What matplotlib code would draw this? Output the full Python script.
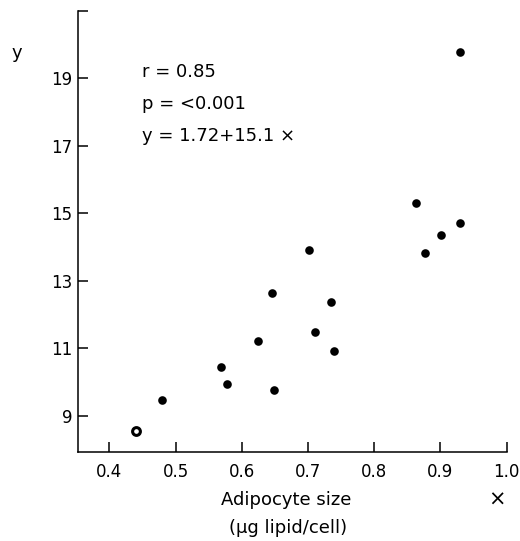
import matplotlib
matplotlib.use("Agg")
import matplotlib.pyplot as plt

# Data
x_solid = [0.48, 0.569, 0.578, 0.625, 0.645, 0.649, 0.701, 0.711, 0.734, 0.739,
           0.863, 0.876, 0.901, 0.929, 0.930]
y_solid = [9.47, 10.44, 9.95, 11.22, 12.64, 9.76, 13.91, 11.49, 12.38, 10.92,
           15.29, 13.81, 14.35, 19.79, 14.72]
x_open = [0.44]
y_open = [8.55]

x_ticks = [0.4, 0.5, 0.6, 0.7, 0.8, 0.9, 1.0]
x_ticklabels = ["0.4", "0.5", "0.6", "0.7", "0.8", "0.9", "1.0"]
y_ticks = [9, 11, 13, 15, 17, 19, 21]
y_ticklabels = ["9", "11", "13", "15", "17", "19", ""]

stats_lines = ["r = 0.85", "p = <0.001", "y = 1.72+15.1 \u00d7"]

plt.rcParams['font.family'] = ['DejaVu Sans']

fig = plt.figure(figsize=(5.2, 5.41), dpi=100)
ax = fig.add_axes([77.7 / 520, 1 - 452 / 541, (506.7 - 77.7) / 520, (452 - 10.7) / 541])

ax.plot(x_solid, y_solid, 'o', color='black', markersize=6.2, markeredgewidth=0)
ax.plot(x_open, y_open, 'o', markerfacecolor='white', markeredgecolor='black',
        markersize=5.6, markeredgewidth=2.2)

ax.set_xlim(0.352, 1.0)
ax.set_ylim(7.93, 21.0)
for s in ['top', 'right']:
    ax.spines[s].set_visible(False)
for s in ['left', 'bottom']:
    ax.spines[s].set_linewidth(1.1)

ax.set_xticks(x_ticks)
ax.set_xticklabels(x_ticklabels)
ax.set_yticks(y_ticks)
ax.set_yticklabels(y_ticklabels)
ax.tick_params(axis='both', direction='in', length=7, width=1.1, labelsize=12)
ax.tick_params(axis='x', pad=8)
ax.tick_params(axis='y', pad=4)

# stats annotation
ys = [72, 104, 136]
for txt, yp in zip(stats_lines, ys):
    fig.text(142 / 520, 1 - yp / 541, txt, fontsize=13, ha='left', va='center')

# axis labels
fig.text(17 / 520, 1 - 53 / 541, "y", fontsize=13, ha='center', va='center')
fig.text(286 / 520, 1 - 500 / 541, "Adipocyte size", fontsize=13, ha='center', va='center')
fig.text(288 / 520, 1 - 528 / 541, "(\u03bcg lipid/cell)", fontsize=13, ha='center', va='center')
fig.text(496.7 / 520, 1 - 500 / 541, "\u00d7", fontsize=15, ha='center', va='center')

fig.savefig("out.png", dpi=100)
